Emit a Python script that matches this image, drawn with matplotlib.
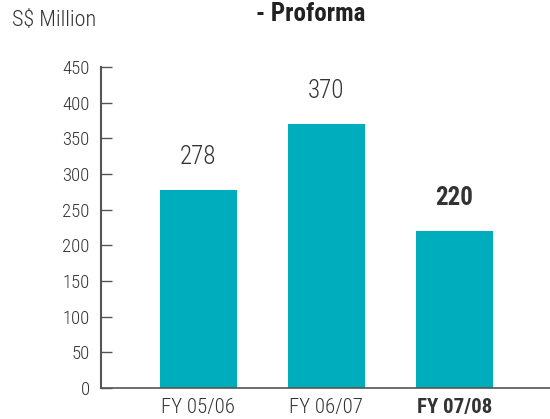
import matplotlib
matplotlib.use("Agg")
import matplotlib.pyplot as plt

# chart data
categories = ["FY 05/06", "FY 06/07", "FY 07/08"]
values = [278, 370, 220]
bold_flags = [False, False, True]
y_ticks = [0, 50, 100, 150, 200, 250, 300, 350, 400, 450]

BAR_COLOR = "#00adbd"
TEXT_COLOR = "#333333"
AXIS_COLOR = "#555555"

plt.rcParams["font.family"] = ["Roboto Condensed", "DejaVu Sans"]


def weight(b):
    return "bold" if b else "light"


fig = plt.figure(figsize=(5.5, 4.19), dpi=100)
ax = fig.add_axes([0.1836, 0.074, 0.8164, 0.766])

x = list(range(len(categories)))
ax.bar(x, values, width=0.6, color=BAR_COLOR, zorder=2)

for xi, v, b in zip(x, values, bold_flags):
    ax.annotate(str(v), (xi, v), xytext=(0, 15), textcoords="offset points",
                ha="center", va="bottom", fontsize=18, color=TEXT_COLOR,
                fontweight=weight(b))

ax.set_xlim(-0.76, 2.746)
ax.set_ylim(0, 450)
ax.set_yticks(y_ticks)
ax.set_yticklabels([str(t) for t in y_ticks], fontsize=13.5, color=TEXT_COLOR,
                   fontweight="light")
ax.set_xticks(x)
ax.set_xticklabels(categories, fontsize=15, color=TEXT_COLOR)
for lbl, b in zip(ax.get_xticklabels(), bold_flags):
    lbl.set_fontweight(weight(b))

ax.tick_params(axis="y", direction="in", length=8, width=1, color=AXIS_COLOR, pad=8)
ax.tick_params(axis="x", length=0, pad=7)

for side in ["top", "right"]:
    ax.spines[side].set_visible(False)
ax.spines["left"].set_color(AXIS_COLOR)
ax.spines["left"].set_linewidth(1.5)
ax.spines["bottom"].set_color(AXIS_COLOR)
ax.spines["bottom"].set_linewidth(1.2)

fig.text(0.022, 0.952, "S$ Million", fontsize=16, color=TEXT_COLOR, ha="left",
         va="center", fontweight="light")
fig.text(0.565, 0.966, "- Proforma", fontsize=18, fontweight="bold", color="#222222",
         ha="center", va="center")

fig.savefig("out.png", dpi=100)
